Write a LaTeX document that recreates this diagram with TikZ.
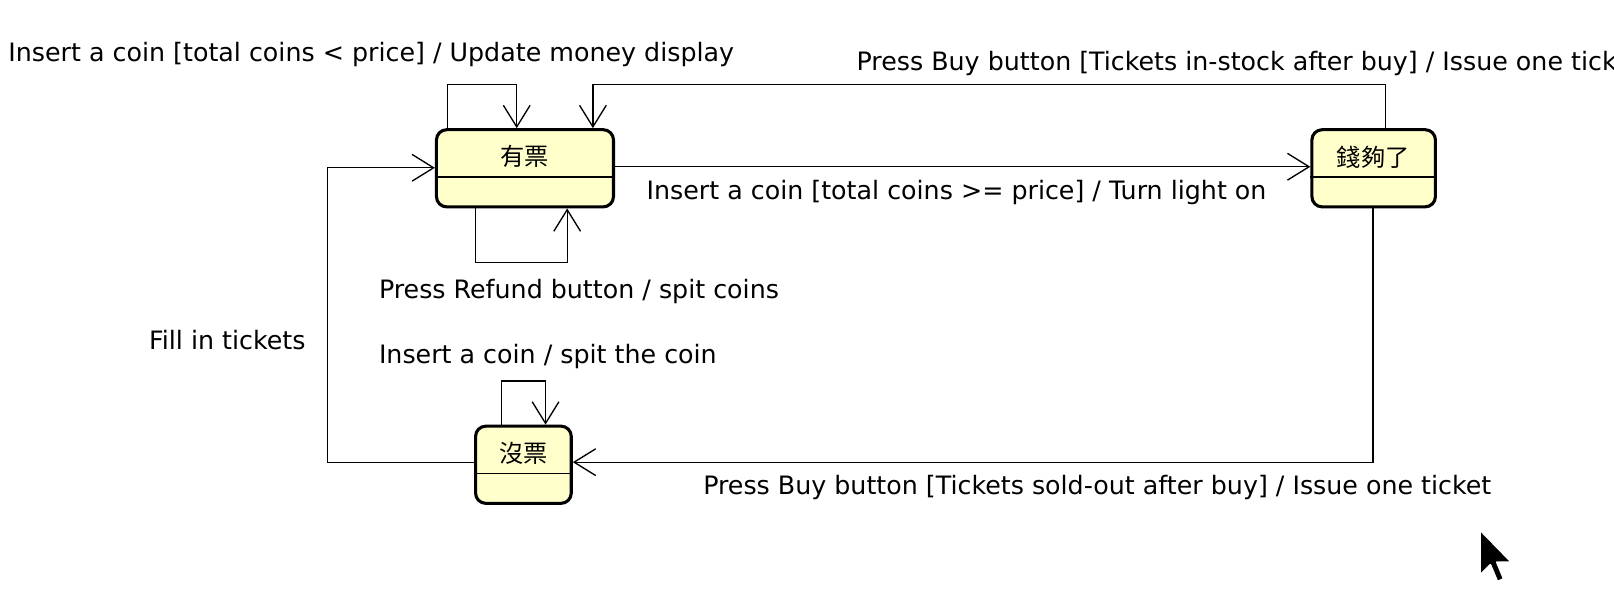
\documentclass[tikz,border=0pt]{standalone}
\usepackage{fontspec}
\setmainfont{DejaVu Sans}
\newfontfamily\cjk{Noto Sans CJK TC}
\usetikzlibrary{arrows.meta,calc}
\definecolor{statefill}{RGB}{255,255,204}
\tikzset{
  statebox/.style={draw=black, line width=3pt, fill=statefill, rounded corners=10pt, inner sep=0pt},
  divider/.style={draw=black, line width=1.3pt},
  statename/.style={inner sep=0pt, font=\cjk\fontsize{23.5}{28}\selectfont},
  conn/.style={draw=black, line width=1.3pt, -{Straight Barb[length=21pt,width=26pt,line width=1.3pt]}},
  edgelabel/.style={inner sep=0pt, anchor=mid west, font=\fontsize{24.6}{29}\selectfont},
}
\begin{document}
\begin{tikzpicture}[x=1pt,y=-1pt]
\clip (0,0) rectangle (1568,572);
\fill[white] (0,0) rectangle (1568,572);

% states
\node[statebox, minimum width=172pt, minimum height=75pt] (yp) at (510,163.5) {};
\node[statebox, minimum width=120pt, minimum height=75pt] (qg) at (1334.5,163.5) {};
\node[statebox, minimum width=93pt, minimum height=75pt] (mp) at (508.5,451.5) {};
\draw[divider] (yp.west |- 0,172) -- (yp.east |- 0,172);
\draw[divider] (qg.west |- 0,172) -- (qg.east |- 0,172);
\draw[divider] (mp.west |- 0,460) -- (mp.east |- 0,460);
\node[statename] (yptxt) at (510,152) {有票};
\node[statename] (qgtxt) at (1334,153) {錢夠了};
\node[statename] (mptxt) at (508.5,440.5) {沒票};

% transitions
\draw[conn] (435,0 |- yp.north) -- (435,82) -- (502,82) -- (502,0 |- yp.north);
\draw[conn] (1346,0 |- qg.north) -- (1346,82) -- (576,82) -- (576,0 |- yp.north);
\draw[conn] (yp.east |- 0,162) -- (qg.west |- 0,162);
\draw[conn] (462,0 |- yp.south) -- (462,255) -- (551,255) -- (551,0 |- yp.south);
\draw[conn] (mp.west |- 0,449) -- (318,449) -- (318,163) -- (yp.west |- 0,163);
\draw[conn] (487,0 |- mp.north) -- (487,370) -- (530,370) -- (530,0 |- mp.north);
\draw[conn] (1334,0 |- qg.south) -- (1334,449) -- (mp.east |- 0,449);

% labels
\node[edgelabel] (l1) at (8,57) {Insert a coin [total coins < price] / Update money display};
\node[edgelabel] (l2) at (832,66) {Press Buy button [Tickets in-stock after buy] / Issue one ticket};
\node[edgelabel] (l3) at (628,191) {Insert a coin [total coins >= price] / Turn light on};
\node[edgelabel] (l4) at (368,287) {Press Refund button / spit coins};
\node[edgelabel, anchor=mid east] (l5) at (297,337) {Fill in tickets};
\node[edgelabel] (l6) at (368,350) {Insert a coin / spit the coin};
\node[edgelabel] (l7) at (683,478) {Press Buy button [Tickets sold-out after buy] / Issue one ticket};

% mouse pointer
\filldraw[fill=black, draw=white, line width=2pt, line join=round, shift={(1437.6,514.4)}, scale=2.7]
  (0,0) -- (0,16.5) -- (3.8,12.8) -- (6.3,18.8) -- (8.7,17.8) -- (6.2,11.8) -- (11.5,11.8) -- cycle;
\end{tikzpicture}
\end{document}
